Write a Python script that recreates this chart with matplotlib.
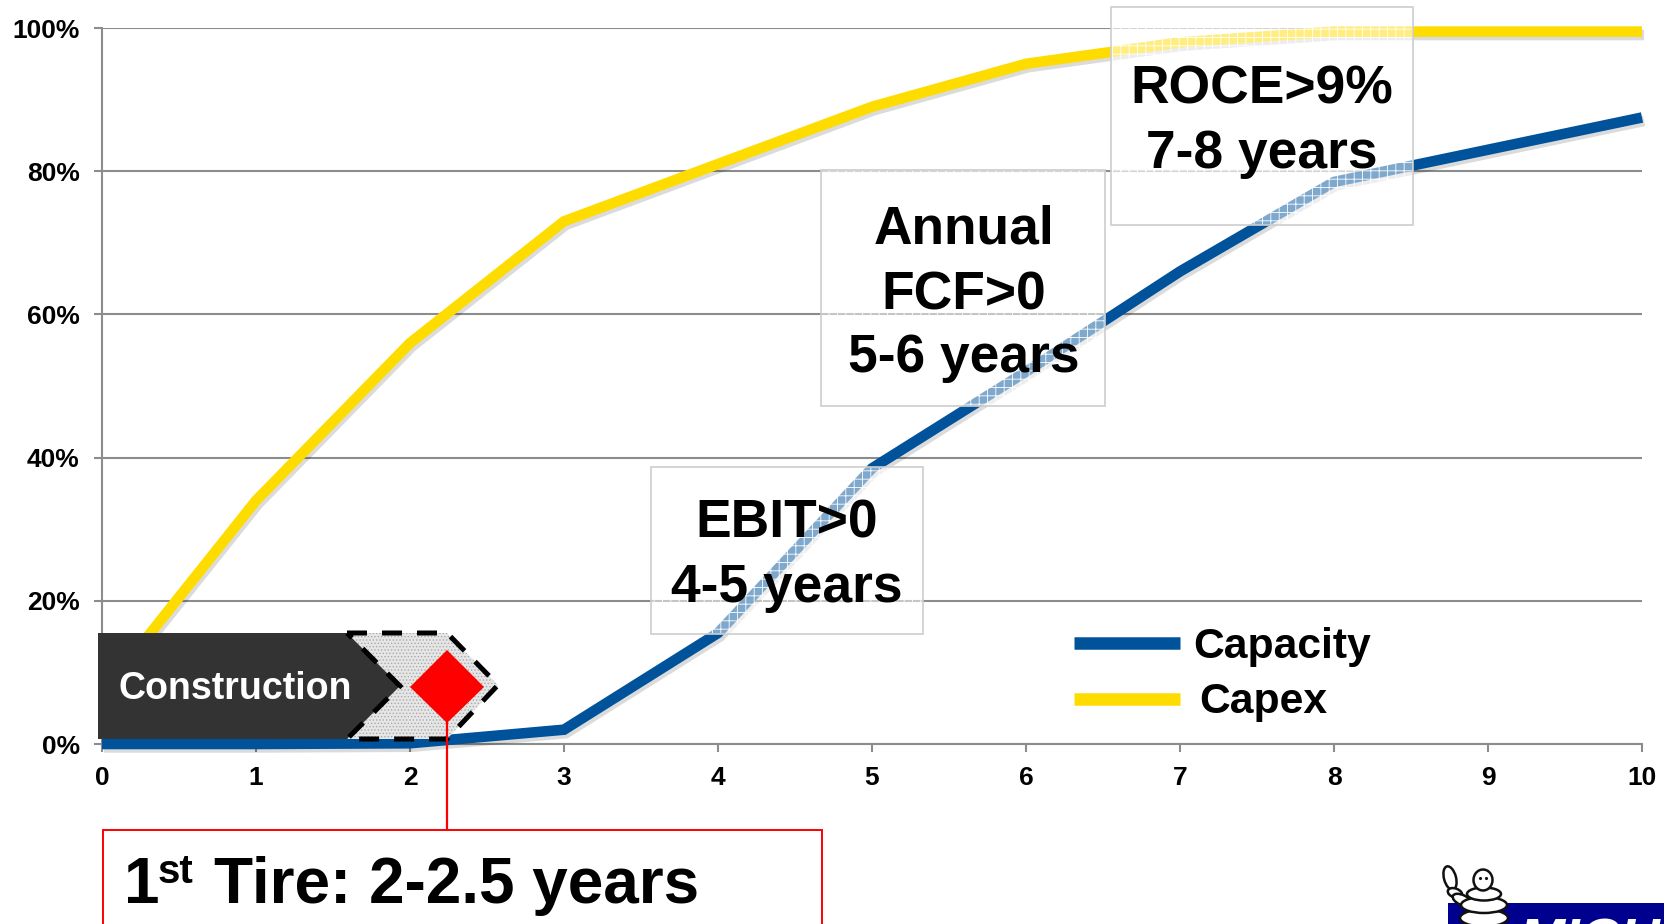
import matplotlib
matplotlib.use("Agg")
import matplotlib.pyplot as plt
import matplotlib.patheffects as pe
from matplotlib.patches import Polygon, Rectangle, Ellipse

plt.rcParams['font.family'] = ['Liberation Sans', 'DejaVu Sans']
plt.rcParams['font.weight'] = 'bold'
plt.rcParams['hatch.linewidth'] = 0.6

years = [0, 1, 2, 3, 4, 5, 6, 7, 8, 9, 10]
capex = [7, 34, 56, 73, 81, 89, 95, 98, 99.5, 99.5, 99.5]
capacity = [0, 0, 0.1, 2, 15.5, 38.5, 52, 66, 78.5, 83, 87.5]
y_ticks = [0, 20, 40, 60, 80, 100]
y_labels = ['0%', '20%', '40%', '60%', '80%', '100%']

W, H = 1664, 924
BLUE, YELLOW, GRID = '#00529B', '#FFDC00', '#8C8C8C'

fig = plt.figure(figsize=(W / 100, H / 100), dpi=100, facecolor='white')
ax = fig.add_axes([102 / W, (H - 744) / H, 1540 / W, 716 / H])
ax.set_xlim(0, 10)
ax.set_ylim(0, 100)
ax.set_xticks(years)
ax.set_yticks(y_ticks)
ax.set_yticklabels(y_labels)
ax.tick_params(axis='both', labelsize=19, color=GRID, width=1.5, length=6)
ax.tick_params(axis='y', pad=10)
ax.tick_params(axis='x', pad=9.5)
ax.grid(axis='y', color=GRID, lw=1.5)
ax.set_axisbelow(True)
for s in ('top', 'right'):
    ax.spines[s].set_visible(False)
for s in ('left', 'bottom'):
    ax.spines[s].set_color(GRID)
    ax.spines[s].set_linewidth(1.5)

shadow = [pe.SimpleLineShadow(offset=(1.5, -2.5), alpha=0.14, shadow_color='black'), pe.Normal()]
for vals, col in ((capacity, BLUE), (capex, YELLOW)):
    ax.plot(years, vals, color=col, lw=7.6, solid_joinstyle='miter', solid_capstyle='butt',
            clip_on=False, path_effects=shadow, zorder=3)

# Overlay in pixel coordinates for the slide annotations
ov = fig.add_axes([0, 0, 1, 1], facecolor='none')
ov.set_xlim(0, W)
ov.set_ylim(H, 0)
ov.axis('off')

def milestone(x0, y0, x1, y1, lines, xc, baselines):
    ov.add_patch(Rectangle((x0, y0), x1 - x0, y1 - y0, fc=(1, 1, 1, 0.5), ec='none', zorder=4))
    ov.add_patch(Rectangle((x0, y0), x1 - x0, y1 - y0, fc='none', ec='white', hatch='++', lw=0, zorder=4))
    ov.add_patch(Rectangle((x0, y0), x1 - x0, y1 - y0, fc='none', ec='#CDCDCD', lw=1.2, zorder=5))
    for t, b in zip(lines, baselines):
        ov.text(xc, b, t, fontsize=38.4, ha='center', va='baseline', color='black', zorder=6)

milestone(1111, 7, 1413, 225, ['ROCE>9%', '7-8 years'], 1262, [104, 168])
milestone(821, 170, 1105, 406, ['Annual', 'FCF>0', '5-6 years'], 964, [244, 309, 372])
milestone(651, 467, 923, 634, ['EBIT>0', '4-5 years'], 787, [538, 602])

# Construction chevrons
dashed = [(347, 633), (447, 633), (498, 685), (447, 739), (347, 739), (400, 686)]
ov.add_patch(Polygon(dashed, closed=True, fc='#E6E6E6', ec='none', zorder=7))
ov.add_patch(Polygon(dashed, closed=True, fc='none', ec='#A8A8A8', hatch='.....', lw=0, zorder=7))
ov.add_patch(Polygon([(98, 633), (347, 633), (400, 686), (347, 739), (98, 739)], closed=True,
                     fc='#333333', ec='none', zorder=8))
ov.add_patch(Polygon(dashed, closed=True, fc='none', ec='black', lw=3.6, ls=(0, (4, 3)), zorder=9))
ov.text(119, 699, 'Construction', fontsize=27, color='white', ha='left', va='baseline', zorder=10)

# Red milestone
ov.add_patch(Polygon([(447, 650), (484, 687), (447, 723), (410, 687)], closed=True, fc='#FF0000', ec='none', zorder=10))
ov.plot([447, 447], [723, 830], color='#FF0000', lw=1.6, zorder=10)
ov.add_patch(Rectangle((103, 830), 719, 120, fc='white', ec='#FF0000', lw=1.4, zorder=10))
ov.text(124, 903, '1', fontsize=46, ha='left', va='baseline', zorder=11)
ov.text(158, 883, 'st', fontsize=29, ha='left', va='baseline', zorder=11)
ov.text(214, 903, 'Tire: 2-2.5 years', fontsize=46, ha='left', va='baseline', zorder=11)

# Legend
for yy, col, name, xc, b in ((643, BLUE, 'Capacity', 1282, 658), (699, YELLOW, 'Capex', 1263, 713)):
    ov.plot([1074, 1180], [yy, yy], color=col, lw=9, solid_capstyle='butt', zorder=5)
    ov.text(xc, b, name, fontsize=30.7, ha='center', va='baseline', zorder=6)

# Logo
ov.add_patch(Polygon([(1448, 903), (1664, 903), (1664, 924), (1448, 924)], closed=True, fc='#00008F', ec='none', zorder=5))
ov.text(1518, 917, 'MICHELIN', fontsize=40, style='italic', color='white', ha='left', va='top', zorder=6)
man = dict(fc='white', ec='#111111', lw=1.8, zorder=7)
ov.add_patch(Ellipse((1450, 878), 12, 24, angle=-15, **man))
ov.add_patch(Ellipse((1455, 893), 15, 9, angle=20, **man))
ov.add_patch(Ellipse((1462, 900), 20, 10, angle=25, **man))
for cx, cy, w, h in ((1484, 930, 48, 18), (1484, 918, 48, 17), (1484, 905, 46, 16), (1484, 894, 34, 13)):
    ov.add_patch(Ellipse((cx, cy), w, h, **man))
ov.add_patch(Ellipse((1483, 880), 19, 21, **man))
ov.plot([1480, 1486], [878, 878], ls='none', marker='.', ms=2.5, color='#111111', zorder=8)

fig.savefig('out.png', dpi=100, facecolor='white')
